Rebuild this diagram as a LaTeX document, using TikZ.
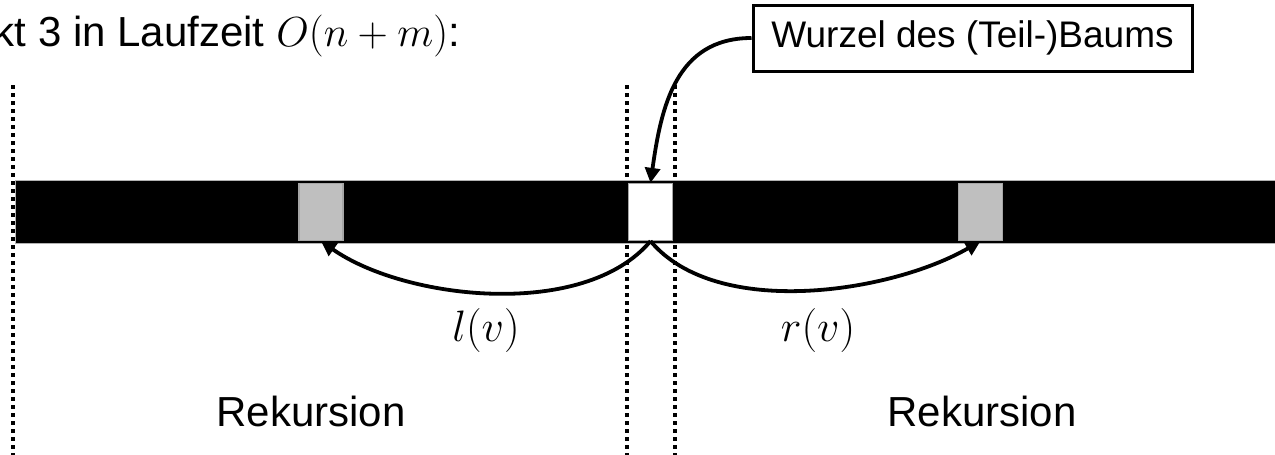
\RequirePackage{fix-cm}
\documentclass[tikz,border=0pt]{standalone}
\usepackage{fontspec}
\setmainfont{Liberation Sans}
\usetikzlibrary{arrows.meta}
\begin{document}
\begin{tikzpicture}[x=1pt,y=1pt,
  txt/.style={font=\fontsize{42}{50}\selectfont, inner sep=0pt},
  mtxt/.style={font=\fontsize{44}{52}\selectfont, inner sep=0pt},
  boxtxt/.style={font=\fontsize{37}{44}\selectfont},
  cellbox/.style={draw=gray!70, line width=1.2pt, minimum width=44pt, minimum height=57pt, inner sep=0pt},
  sep/.style={line width=3.5pt, dash pattern=on 3.5pt off 4.5pt},
  arr/.style={line width=3.8pt, -{Triangle[length=15pt,width=15pt]}}]
\useasboundingbox (0,0) rectangle (1275,-455);
% dotted separators
\coordinate (s1t) at (13,-85);  \coordinate (s1b) at (13,-455);
\coordinate (s2t) at (627,-85); \coordinate (s2b) at (627,-455);
\coordinate (s3t) at (675,-85); \coordinate (s3b) at (675,-455);
\draw[sep] (s1t) -- (s1b);
\draw[sep] (s2t) -- (s2b);
\draw[sep] (s3t) -- (s3b);
% bar
\fill[black] (15,-180) rectangle (1280,-243);
\draw[gray!60, line width=0.8pt] (1280,-180) -- (15,-180) -- (15,-243) -- (1280,-243);
% cells
\node[cellbox, fill=gray!50] (L) at (321,-212) {};
\node[cellbox, fill=white] (W) at (650.5,-212) {};
\node[cellbox, fill=gray!50] (R) at (980.5,-212) {};
% title
\node[txt, anchor=base east] (title) at (460,-46) {kt 3 in Laufzeit $O(n+m)$:};
% root box
\node[boxtxt, draw, line width=3pt, minimum width=439pt, minimum height=66pt, inner sep=0pt] (B) at (972.5,-38) {Wurzel des (Teil-)Baums};
\draw[arr] (B.west) to[out=180, in=82, looseness=1.1] (W.north);
% l(v), r(v)
\draw[arr] (W.south) to[out=-130, in=-35, looseness=0.8] (L.south);
\draw[arr] (W.south) to[out=-50, in=-150, looseness=0.8] (R.south);
\node[mtxt] (lv) at (486,-330) {$l(v)$};
\node[mtxt] (rv) at (818,-330) {$r(v)$};
% Rekursion labels
\node[txt, anchor=base] (rek1) at (311,-426) {Rekursion};
\node[txt, anchor=base] (rek2) at (982,-426) {Rekursion};
\end{tikzpicture}
\end{document}
